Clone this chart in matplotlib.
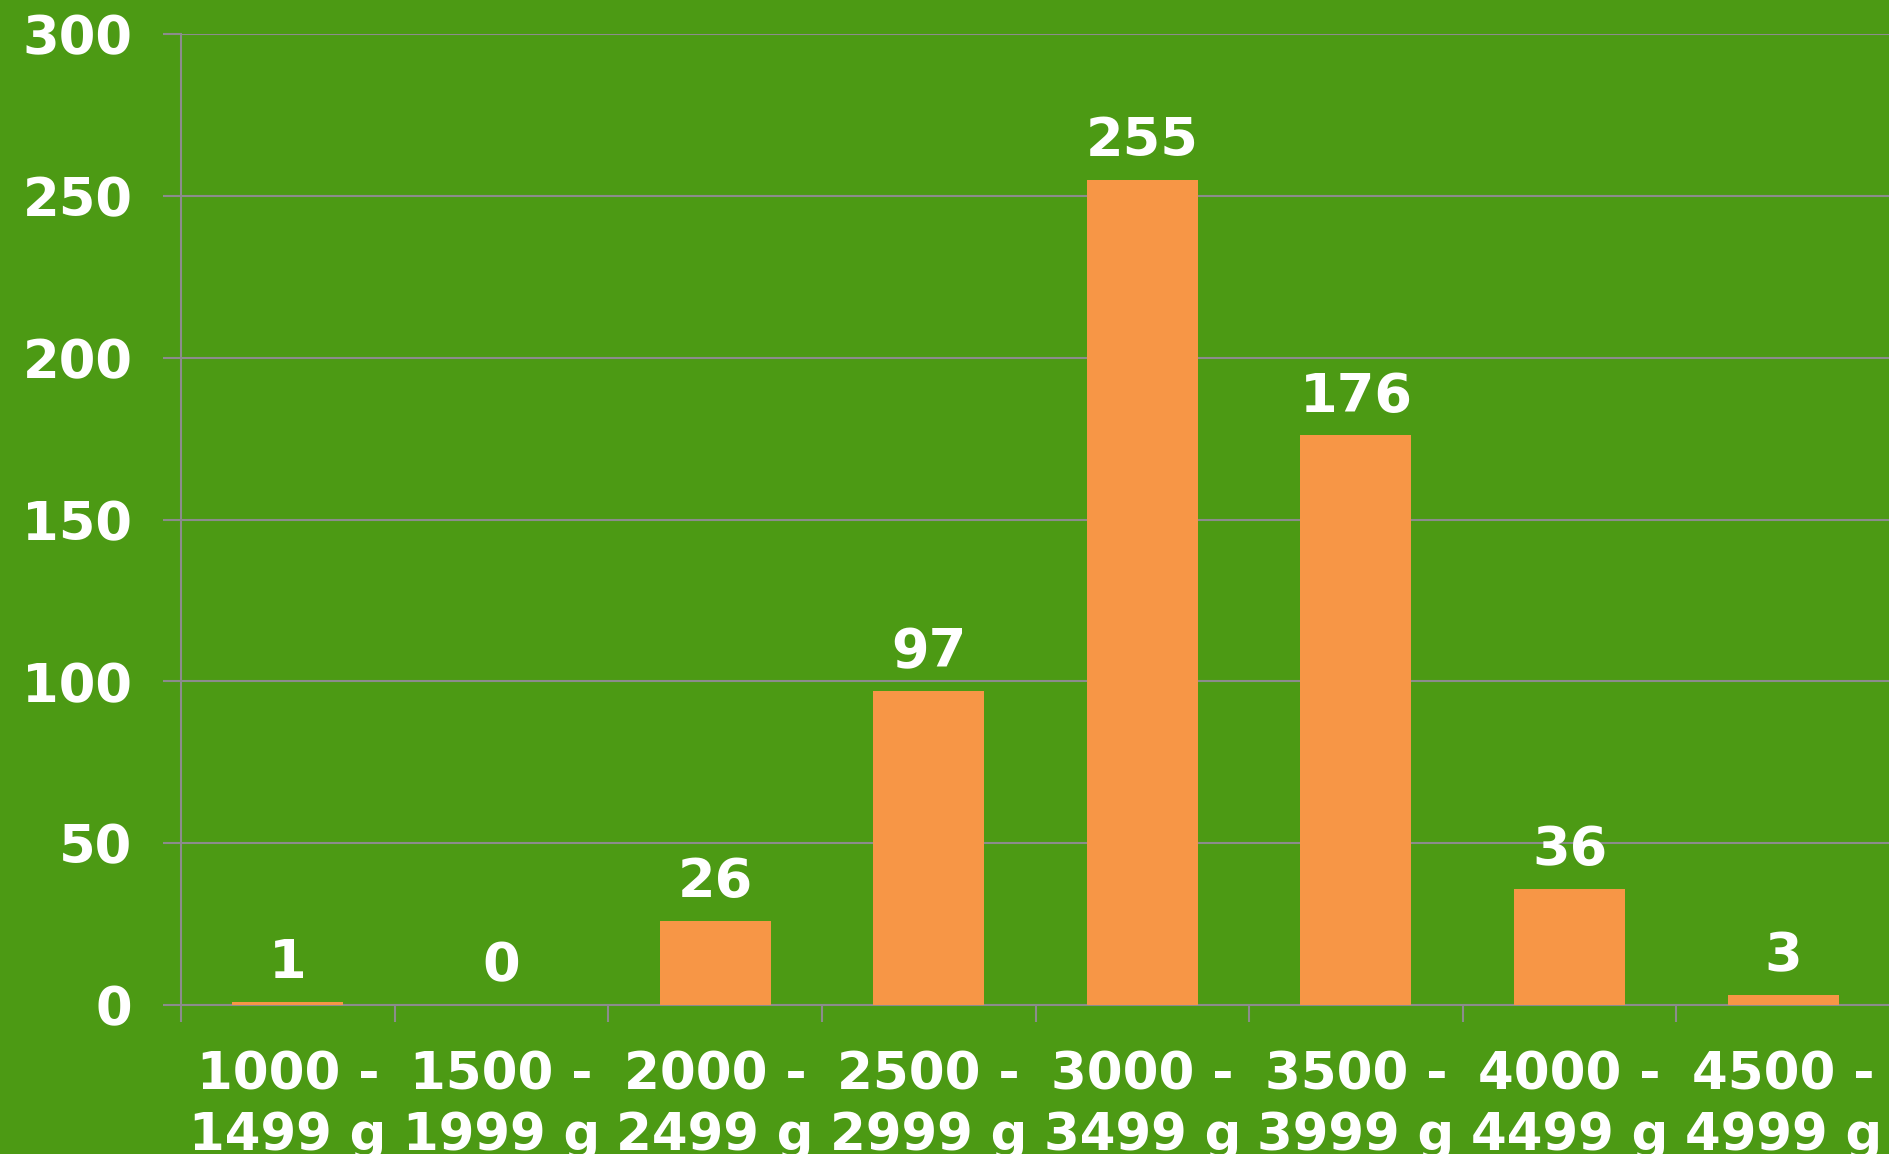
import numpy as np
import matplotlib.pyplot as plt

categories = ["1000 -\n1499 g", "1500 -\n1999 g", "2000 -\n2499 g", "2500 -\n2999 g",
              "3000 -\n3499 g", "3500 -\n3999 g", "4000 -\n4499 g", "4500 -\n4999 g"]
counts = [1, 0, 26, 97, 255, 176, 36, 3]
yticks = [0, 50, 100, 150, 200, 250, 300]

green = "#4C9A14"
orange = "#F79646"
grey = "#8C8C8C"

plt.rcParams['font.family'] = ['DejaVu Sans']

fig = plt.figure(figsize=(18.9, 11.54), dpi=100, facecolor=green)
ax = fig.add_axes([0.0958, 0.1291, 0.9042, 0.8414])
ax.set_facecolor(green)

x = np.arange(len(categories))
ax.bar(x, counts, width=0.52, color=orange, zorder=3)

for xi, v in zip(x, counts):
    ax.annotate(str(v), (xi, v), xytext=(0, 9), textcoords='offset points',
                ha='center', va='bottom', color='white', fontsize=39, fontweight='bold')

ax.set_xlim(-0.5, len(categories) - 0.5)
ax.set_ylim(0, 300)
ax.set_yticks(yticks)
ax.set_yticklabels([str(t) for t in yticks], fontsize=38, fontweight='bold', color='white')
ax.grid(axis='y', color=grey, linewidth=1.5, zorder=0)

ax.set_xticks(x)
ax.set_xticklabels(categories, fontsize=37, fontweight='bold', color='white', linespacing=1.25)
ax.set_xticks(np.arange(len(categories) + 1) - 0.5, minor=True)
ax.tick_params(axis='x', which='major', length=0, pad=33)
ax.tick_params(axis='x', which='minor', length=12, width=1.5, color=grey)
ax.tick_params(axis='y', length=13, width=1.5, color=grey, pad=22)

for s in ['top', 'right']:
    ax.spines[s].set_visible(False)
for s in ['left', 'bottom']:
    ax.spines[s].set_color(grey)
    ax.spines[s].set_linewidth(1.5)

fig.savefig("out.png", dpi=100, facecolor=green)
